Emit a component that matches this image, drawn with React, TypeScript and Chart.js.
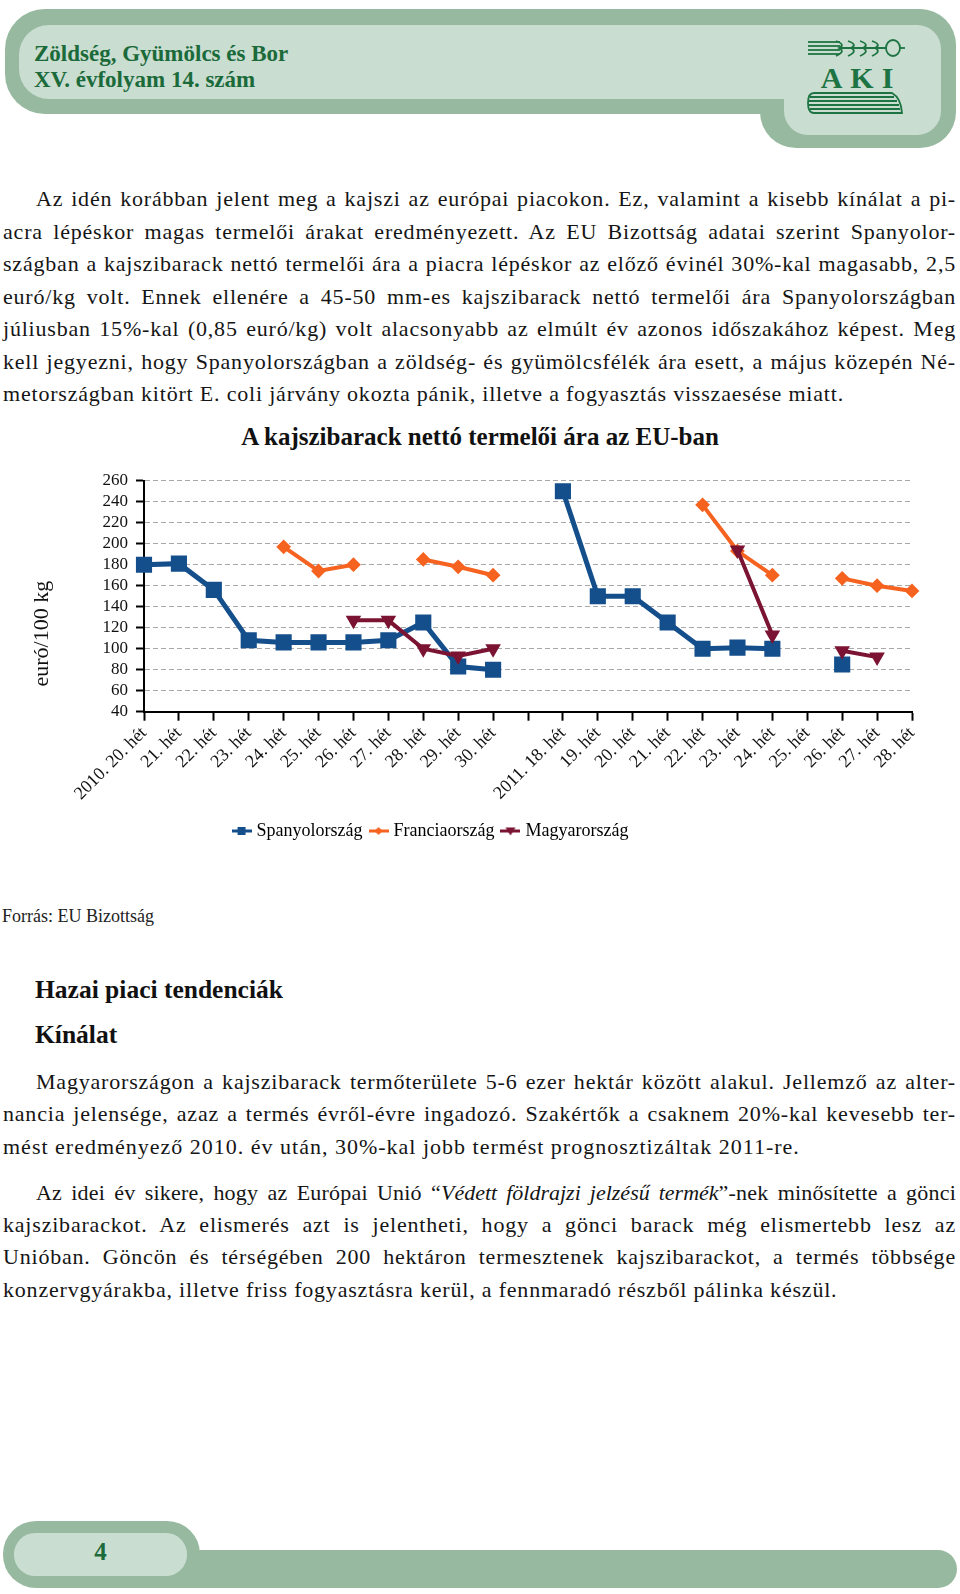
import React, { useEffect, useRef } from 'react';
import { Chart, registerables } from 'chart.js';

Chart.register(...registerables);

// ---------- data ----------
const weekLabels = [
  '2010. 20. hét', '21. hét', '22. hét', '23. hét', '24. hét', '25. hét', '26. hét',
  '27. hét', '28. hét', '29. hét', '30. hét', '',
  '2011. 18. hét', '19. hét', '20. hét', '21. hét', '22. hét', '23. hét', '24. hét',
  '25. hét', '26. hét', '27. hét', '28. hét',
];
const spainValues = [180, 181, 156, 108, 106, 106, 106, 108, 125, 83, 80, null, 250, 150, 150, 125, 100, 101, 100, null, 85, null, null];
const franceValues = [null, null, null, null, 197, 174, 180, null, 185, 178, 170, null, null, null, null, null, 237, 193, 170, null, 167, 160, 155];
const hungaryValues = [null, null, null, null, null, null, 127, 127, 100, 93, 100, null, null, null, null, null, null, 194, 113, null, 98, 92, null];
const seriesNames = ['Spanyolország', 'Franciaország', 'Magyarország'];
const yTicksMin = 40;
const yTicksMax = 260;
const yTickStep = 20;
const chartTitle = 'A kajszibarack nettó termelői ára az EU-ban';
const yAxisTitle = 'euró/100 kg';

const SERIF = "'Liberation Serif', 'Times New Roman', serif";
const BLUE = '#144f8c';
const ORANGE = '#f6621f';
const MAROON = '#7b1332';
const GREEN_TXT = '#1b6a3a';
const DARK_GREEN = '#97b9a0';
const LIGHT_GREEN = '#c9ddd1';

function makeLegendIcon(color: string, kind: string): HTMLCanvasElement {
  const c = document.createElement('canvas');
  c.width = 20;
  c.height = 14;
  const ctx = c.getContext('2d')!;
  ctx.strokeStyle = color;
  ctx.fillStyle = color;
  ctx.lineWidth = 3;
  ctx.beginPath();
  ctx.moveTo(0, 7);
  ctx.lineTo(20, 7);
  ctx.stroke();
  ctx.beginPath();
  if (kind === 'rect') {
    ctx.rect(6, 3, 8, 8);
  } else if (kind === 'rectRot') {
    ctx.moveTo(10, 3);
    ctx.lineTo(14, 7);
    ctx.lineTo(10, 11);
    ctx.lineTo(6, 7);
    ctx.closePath();
  } else {
    ctx.moveTo(5, 3.5);
    ctx.lineTo(15, 3.5);
    ctx.lineTo(10, 11.5);
    ctx.closePath();
  }
  ctx.fill();
  return c;
}

function PriceChart() {
  const ref = useRef<HTMLCanvasElement | null>(null);
  useEffect(() => {
    if (!ref.current) return;
    const icons = [
      makeLegendIcon(BLUE, 'rect'),
      makeLegendIcon(ORANGE, 'rectRot'),
      makeLegendIcon(MAROON, 'triangle'),
    ];
    const yTitlePlugin = {
      id: 'yTitleCustom',
      afterDraw(chart: any) {
        const { ctx, chartArea } = chart;
        ctx.save();
        ctx.translate(chartArea.left - 102, chartArea.top + 153);
        ctx.rotate(-Math.PI / 2);
        ctx.font = `22px ${SERIF}`;
        ctx.fillStyle = '#111';
        ctx.textAlign = 'center';
        ctx.textBaseline = 'middle';
        ctx.fillText(yAxisTitle, 0, 0);
        ctx.restore();
      },
    };
    const chart = new Chart(ref.current, {
      type: 'line',
      data: {
        labels: weekLabels,
        datasets: [
          {
            label: seriesNames[0],
            data: spainValues,
            borderColor: BLUE,
            backgroundColor: BLUE,
            borderWidth: 5,
            pointStyle: 'rect',
            pointRadius: 10,
            pointBorderWidth: 2,
            pointBackgroundColor: BLUE,
            pointBorderColor: BLUE,
            spanGaps: false,
            clip: false,
            order: 3,
          },
          {
            label: seriesNames[1],
            data: franceValues,
            borderColor: ORANGE,
            backgroundColor: ORANGE,
            borderWidth: 4,
            pointStyle: 'rectRot',
            pointRadius: 6,
            pointBorderWidth: 2,
            pointBackgroundColor: ORANGE,
            pointBorderColor: ORANGE,
            spanGaps: false,
            clip: false,
            order: 2,
          },
          {
            label: seriesNames[2],
            data: hungaryValues,
            borderColor: MAROON,
            backgroundColor: MAROON,
            borderWidth: 4,
            pointStyle: 'triangle',
            rotation: 180,
            pointRotation: 180,
            pointRadius: 7,
            pointBorderWidth: 2,
            pointBackgroundColor: MAROON,
            pointBorderColor: MAROON,
            spanGaps: false,
            clip: false,
            order: 1,
          },
        ] as any,
      },
      options: {
        animation: false,
        responsive: false,
        maintainAspectRatio: false,
        layout: { padding: { left: 0, right: 48, top: 30.7, bottom: 0 } },
        elements: { line: { tension: 0 } },
        scales: {
          x: {
            type: 'category',
            offset: false,
            afterFit: (scale: any) => {
              scale.height = 100.3;
            },
            grid: {
              drawOnChartArea: false,
              drawTicks: true,
              tickLength: 9,
              tickColor: '#000',
              tickWidth: 2,
              color: '#000',
            },
            border: { display: true, color: '#000', width: 2 },
            ticks: {
              autoSkip: false,
              minRotation: 45,
              maxRotation: 45,
              padding: 2,
              color: '#111',
              font: { family: SERIF, size: 18 },
            },
          },
          y: {
            min: yTicksMin,
            max: yTicksMax,
            afterFit: (scale: any) => {
              scale.width = 192;
            },
            grid: {
              color: '#a8a8a8',
              lineWidth: 1,
              drawTicks: true,
              tickLength: 8,
              tickColor: '#000',
              tickWidth: 2,
              borderDash: [5, 3],
            },
            border: { display: true, color: '#000', width: 2, dash: [5, 3] },
            ticks: {
              stepSize: yTickStep,
              autoSkip: false,
              padding: 8,
              color: '#111',
              font: { family: SERIF, size: 17 },
            },
          },
        } as any,
        plugins: {
          title: { display: false },
          tooltip: { enabled: false },
          legend: {
            display: true,
            position: 'bottom',
            labels: {
              usePointStyle: true,
              pointStyleWidth: 12,
              padding: 10,
              color: '#111',
              font: { family: SERIF, size: 18 },
              generateLabels: (ch: any) =>
                ch.data.datasets.map((ds: any, i: number) => ({
                  text: ds.label,
                  pointStyle: icons[i],
                  fillStyle: ds.borderColor,
                  strokeStyle: ds.borderColor,
                  lineWidth: 0,
                  hidden: false,
                  datasetIndex: i,
                })),
            },
          },
        } as any,
      },
      plugins: [yTitlePlugin as any],
    });
    return () => chart.destroy();
  }, []);
  return (
    <canvas
      ref={ref}
      width={1008}
      height={400}
      style={{ position: 'absolute', left: -48, top: 450, width: 1008, height: 400 }}
    />
  );
}

type LineProps = { children: React.ReactNode; last?: boolean; indent?: boolean; spacing?: string };
function TextLine({ children, last, indent, spacing }: LineProps) {
  return (
    <div
      style={{
        textAlign: last ? 'left' : 'justify',
        textAlignLast: last ? 'left' : 'justify',
        paddingLeft: indent ? 33 : 0,
        letterSpacing: spacing,
      } as any}
    >
      {children}
    </div>
  );
}

function Header() {
  return (
    <>
      <div style={{ position: 'absolute', left: 5, top: 9, width: 951, height: 105, borderRadius: 40, background: DARK_GREEN }} />
      <div style={{ position: 'absolute', left: 760, top: 9, width: 196, height: 139, borderRadius: 36, background: DARK_GREEN }} />
      <div style={{ position: 'absolute', left: 19, top: 25, width: 922, height: 74, borderRadius: 30, background: LIGHT_GREEN }} />
      <div style={{ position: 'absolute', left: 784, top: 25, width: 157, height: 110, borderRadius: 24, background: LIGHT_GREEN }} />
      <div
        style={{
          position: 'absolute', left: 34, top: 40.5, fontFamily: SERIF, fontWeight: 'bold',
          fontSize: 23, lineHeight: '26px', color: GREEN_TXT,
        }}
      >
        <div>Zöldség, Gyümölcs és Bor</div>
        <div>XV. évfolyam 14. szám</div>
      </div>
      <svg style={{ position: 'absolute', left: 800, top: 36 }} width={110} height={82} viewBox="0 0 110 82">
        <g stroke="#1d7442" strokeWidth={1.8} fill="none">
          <line x1={8} y1={6} x2={40} y2={6} />
          <line x1={8} y1={10} x2={40} y2={10} />
          <line x1={8} y1={14} x2={40} y2={14} />
          <line x1={8} y1={18} x2={40} y2={18} />
          <path d="M36 5 Q46 8.5 39 12 Q46 15.5 36 20" />
          <path d="M48 5 Q58 8.5 51 12 Q58 15.5 48 20" />
          <path d="M60 5 Q70 8.5 63 12 Q70 15.5 60 20" />
          <path d="M72 5 Q82 8.5 75 12 Q82 15.5 72 20" />
          <line x1={40} y1={12} x2={86} y2={12} />
          <ellipse cx={93} cy={12} rx={7} ry={8} />
          <line x1={100} y1={12} x2={105} y2={12} />
        </g>
        <text x={61} y={52} textAnchor="middle" fontFamily={SERIF} fontWeight="bold" fontSize={30} fill="#1d7442" letterSpacing={8}>AKI</text>
        <g stroke="#1d7442" strokeWidth={1.8} fill="none">
          <path d="M14 57 H92 Q101 62 102 77 H14 Q8 77 8 67 Q8 57 14 57 Z" />
          <line x1={10} y1={61} x2={94} y2={61} />
          <line x1={9} y1={65} x2={97} y2={65} />
          <line x1={9} y1={69} x2={99} y2={69} />
          <line x1={10} y1={73} x2={100} y2={73} />
        </g>
      </svg>
    </>
  );
}

function Footer() {
  return (
    <>
      <div style={{ position: 'absolute', left: 150, top: 1550, width: 807, height: 38, borderRadius: 19, background: DARK_GREEN }} />
      <div style={{ position: 'absolute', left: 3, top: 1521, width: 197, height: 67, borderRadius: 33, background: DARK_GREEN }} />
      <div style={{ position: 'absolute', left: 14, top: 1533, width: 173, height: 43, borderRadius: 21, background: LIGHT_GREEN }} />
      <div
        style={{
          position: 'absolute', left: 14, top: 1537, width: 173, textAlign: 'center',
          fontFamily: SERIF, fontWeight: 'bold', fontSize: 25, lineHeight: '30px', color: GREEN_TXT,
        }}
      >
        4
      </div>
    </>
  );
}

export default function App() {
  const body: React.CSSProperties = {
    position: 'absolute', left: 3, width: 953, fontFamily: SERIF, fontSize: 22,
    letterSpacing: '0.8px', color: '#151515',
  };
  return (
    <div style={{ position: 'absolute', left: 0, top: 0, width: 960, height: 1594, overflow: 'hidden', background: '#fff' }}>
      <Header />
      <div style={{ ...body, top: 183, lineHeight: '32.5px' }}>
        <TextLine indent>Az idén korábban jelent meg a kajszi az európai piacokon. Ez, valamint a kisebb kínálat a pi-</TextLine>
        <TextLine>acra lépéskor magas termelői árakat eredményezett. Az EU Bizottság adatai szerint Spanyolor-</TextLine>
        <TextLine>szágban a kajszibarack nettó termelői ára a piacra lépéskor az előző évinél 30%-kal magasabb, 2,5</TextLine>
        <TextLine>euró/kg volt. Ennek ellenére a 45-50 mm-es kajszibarack nettó termelői ára Spanyolországban</TextLine>
        <TextLine>júliusban 15%-kal (0,85 euró/kg) volt alacsonyabb az elmúlt év azonos időszakához képest. Meg</TextLine>
        <TextLine>kell jegyezni, hogy Spanyolországban a zöldség- és gyümölcsfélék ára esett, a május közepén Né-</TextLine>
        <TextLine last>metországban kitört E. coli járvány okozta pánik, illetve a fogyasztás visszaesése miatt.</TextLine>
      </div>
      <div
        style={{
          position: 'absolute', left: 0, top: 422, width: 960, textAlign: 'center', fontFamily: SERIF,
          fontWeight: 'bold', fontSize: 25, lineHeight: '30px', color: '#111',
        }}
      >
        {chartTitle}
      </div>
      <PriceChart />
      <div style={{ position: 'absolute', left: 2, top: 905, fontFamily: SERIF, fontSize: 18, lineHeight: '22px', color: '#222' }}>
        Forrás: EU Bizottság
      </div>
      <div style={{ position: 'absolute', left: 35, top: 976, fontFamily: SERIF, fontWeight: 'bold', fontSize: 25.5, lineHeight: '28px', color: '#111' }}>
        Hazai piaci tendenciák
      </div>
      <div style={{ position: 'absolute', left: 35, top: 1021, fontFamily: SERIF, fontWeight: 'bold', fontSize: 25.5, lineHeight: '28px', color: '#111' }}>
        Kínálat
      </div>
      <div style={{ ...body, top: 1066, lineHeight: '32.3px' }}>
        <TextLine indent>Magyarországon a kajszibarack termőterülete 5-6 ezer hektár között alakul. Jellemző az alter-</TextLine>
        <TextLine>nancia jelensége, azaz a termés évről-évre ingadozó. Szakértők a csaknem 20%-kal kevesebb ter-</TextLine>
        <TextLine last spacing="1px">mést eredményező 2010. év után, 30%-kal jobb termést prognosztizáltak 2011-re.</TextLine>
      </div>
      <div style={{ ...body, top: 1177, lineHeight: '32.2px' }}>
        <TextLine indent spacing="0.2px">
          Az idei év sikere, hogy az Európai Unió “<i style={{ letterSpacing: 0 }}>Védett földrajzi jelzésű termék</i>”-nek minősítette a gönci
        </TextLine>
        <TextLine>kajszibarackot. Az elismerés azt is jelentheti, hogy a gönci barack még elismertebb lesz az</TextLine>
        <TextLine>Unióban. Göncön és térségében 200 hektáron termesztenek kajszibarackot, a termés többsége</TextLine>
        <TextLine last>konzervgyárakba, illetve friss fogyasztásra kerül, a fennmaradó részből pálinka készül.</TextLine>
      </div>
      <Footer />
    </div>
  );
}
